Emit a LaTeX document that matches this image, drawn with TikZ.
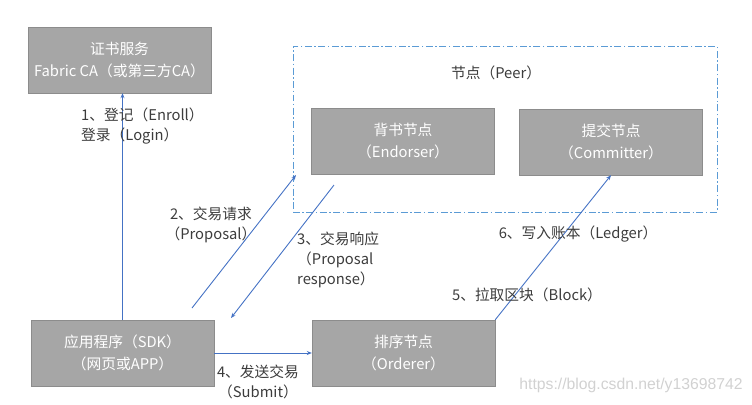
\documentclass[tikz,border=0pt]{standalone}
\usepackage{fontspec}
\setmainfont{Noto Sans CJK SC}
\newfontfamily\markfont{Liberation Sans}
\usetikzlibrary{arrows.meta}

\definecolor{boxgray}{RGB}{166,166,166}
\definecolor{boxline}{RGB}{140,140,140}
\definecolor{flowblue}{RGB}{68,114,196}
\definecolor{peerblue}{RGB}{91,155,213}
\definecolor{labelgray}{RGB}{60,60,60}

\begin{document}
\begin{tikzpicture}[x=1bp, y=-1bp,
    font=\fontsize{14.8}{20}\selectfont,
    roleBox/.style={draw=boxline, fill=boxgray, text=white, align=center,
        minimum width=183bp, minimum height=66bp, inner sep=0pt,
        font=\fontsize{14.8}{22}\selectfont},
    stepLabel/.style={text=labelgray, inner sep=0pt},
    flow/.style={draw=flowblue, line width=0.9pt, -{Stealth[length=5pt,width=4pt]}}]

    % 1. Canvas
    \useasboundingbox (0,0) rectangle (752,404);

    % 2. Peer group frame
    \node[draw=peerblue, line width=0.8pt, dash pattern=on 7pt off 2.5pt on 1.5pt off 2.5pt,
        minimum width=424bp, minimum height=166bp, inner sep=0pt] (peer) at (505,129) {};
    \node[stepLabel] (peerLabel) at (496,73) {节点（Peer）};

    % 3. The role boxes
    \node[roleBox] (ca) at (119.5,60) {证书服务\\Fabric CA（或第三方CA）};
    \node[roleBox] (endorser) at (403,141) {背书节点\\（Endorser）};
    \node[roleBox] (committer) at (611,142) {提交节点\\（Committer）};
    \node[roleBox] (sdk) at (122.5,353) {应用程序（SDK）\\（网页或APP）};
    \node[roleBox] (orderer) at (403.5,353) {排序节点\\（Orderer）};

    % 4. Free ends of the proposal arrows
    \coordinate (propStart) at (192,308);
    \coordinate (propEnd) at (296,175);
    \coordinate (respStart) at (334,185);
    \coordinate (respEnd) at (231,318);

    % 5. Flows
    \draw[flow] (sdk.north) -- (sdk.north |- ca.south);
    \draw[flow] (propStart) -- (propEnd);
    \draw[flow] (respStart) -- (respEnd);
    \draw[flow] (sdk.east) -- (orderer.west);
    \draw[flow] (orderer.north east) -- (committer.south);

    % 6. Step labels
    \node[stepLabel, align=left, anchor=west] (enrollLabel) at (81,126)
        {1、登记（Enroll）\\登录（Login）};
    \node[stepLabel, align=center] (proposalLabel) at (211,225)
        {2、交易请求\\（Proposal）};
    \node[stepLabel, align=left, anchor=west] (responseLabel) at (297,260)
        {3、交易响应\\（Proposal\\response）};
    \node[stepLabel, align=center] (submitLabel) at (258,382)
        {4、发送交易\\（Submit）};
    \node[stepLabel] (blockLabel) at (527,295) {5、拉取区块（Block）};
    \node[stepLabel] (ledgerLabel) at (578,234) {6、写入账本（Ledger）};

    % 7. Watermark
    \node[text=black!18, inner sep=0pt, font=\markfont\fontsize{15.8}{18}\selectfont]
        (mark) at (631,385) {https://blog.csdn.net/y13698742};

\end{tikzpicture}
\end{document}
